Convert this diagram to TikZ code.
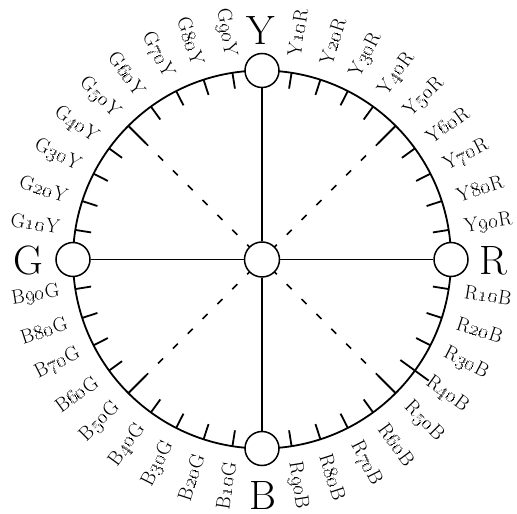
\documentclass[tikz,border=0pt]{standalone}
\usetikzlibrary{calc}
\newcommand{\ncslab}[3]{#1\kern0.7pt\oldstylenums{#2}\kern0.7pt#3}
\begin{document}
\begin{tikzpicture}[x=1pt,y=1pt,
  rim/.style={line width=1.8pt},
  tickmark/.style={line width=1.8pt},
  hub/.style={circle, draw, line width=1.5pt, fill=white, minimum size=34pt, inner sep=0pt},
  axisline/.style={line width=1.8pt},
  diag/.style={line width=1.6pt, dash pattern=on 7pt off 14pt, dash phase=7pt},
  lab/.style={inner sep=0pt, font=\fontsize{20}{22}\selectfont},
  big/.style={inner sep=0pt, font=\fontsize{41}{44}\selectfont}]
\useasboundingbox (0,0) rectangle (517,514);
\coordinate (c) at (262,254.5);
% outer circle
\draw[rim] (c) circle (189);
% ticks
\foreach \i in {1,...,39} {
  \pgfmathtruncatemacro\mm{mod(\i,10)}
  \ifnum\mm=0 \else
    \ifnum\mm=5 \def\tkin{164}\else \def\tkin{173}\fi
    \def\tkout{189}
    \ifnum\i=36 \def\tkin{171}\def\tkout{206}\fi
    \draw[tickmark] ($(c)+(9*\i:\tkin)$) -- ($(c)+(9*\i:\tkout)$);
  \fi
}
% dashed diagonals
\foreach \a in {45,135,225,315} {
  \draw[diag] (c) -- ($(c)+(\a:164)$);
}
% hue circles
\node[hub] (Yc) at ($(c)+(90:189)$) {};
\node[hub] (Rc) at ($(c)+(0:189)$) {};
\node[hub] (Bc) at ($(c)+(270:189)$) {};
\node[hub] (Gc) at ($(c)+(180:189)$) {};
\node[hub, minimum size=35pt] (O) at (c) {};
% axes
\draw[axisline] (Yc) -- (O);
\draw[axisline] (O) -- (Bc);
\draw[axisline] (Gc) -- (O);
\draw[axisline] (O) -- (Rc);
% main letters
\node[big] (Y) at (261,483.2) {Y};
\node[big] (G) at (28.3,253.2) {G};
\node[big] (R) at (493.3,253.2) {R};
\node[big] (B) at (262.5,18.6) {B};
% intermediate labels
\foreach \k in {1,...,9} {
  \pgfmathtruncatemacro\nn{10*\k}
  \node[lab, anchor=west, rotate=90-9*\k] (yr\k) at ($(c)+(90-9*\k:205)$) {\ncslab{Y}{\nn}{R}};
  \node[lab, anchor=west, rotate=-9*\k] (rb\k) at ($(c)+(-9*\k:205)$) {\ncslab{R}{\nn}{B}};
  \node[lab, anchor=east, rotate=90-9*\k] (bg\k) at ($(c)+(270-9*\k:205)$) {\ncslab{B}{\nn}{G}};
  \node[lab, anchor=east, rotate=-9*\k] (gy\k) at ($(c)+(180-9*\k:205)$) {\ncslab{G}{\nn}{Y}};
}
\end{tikzpicture}
\end{document}
